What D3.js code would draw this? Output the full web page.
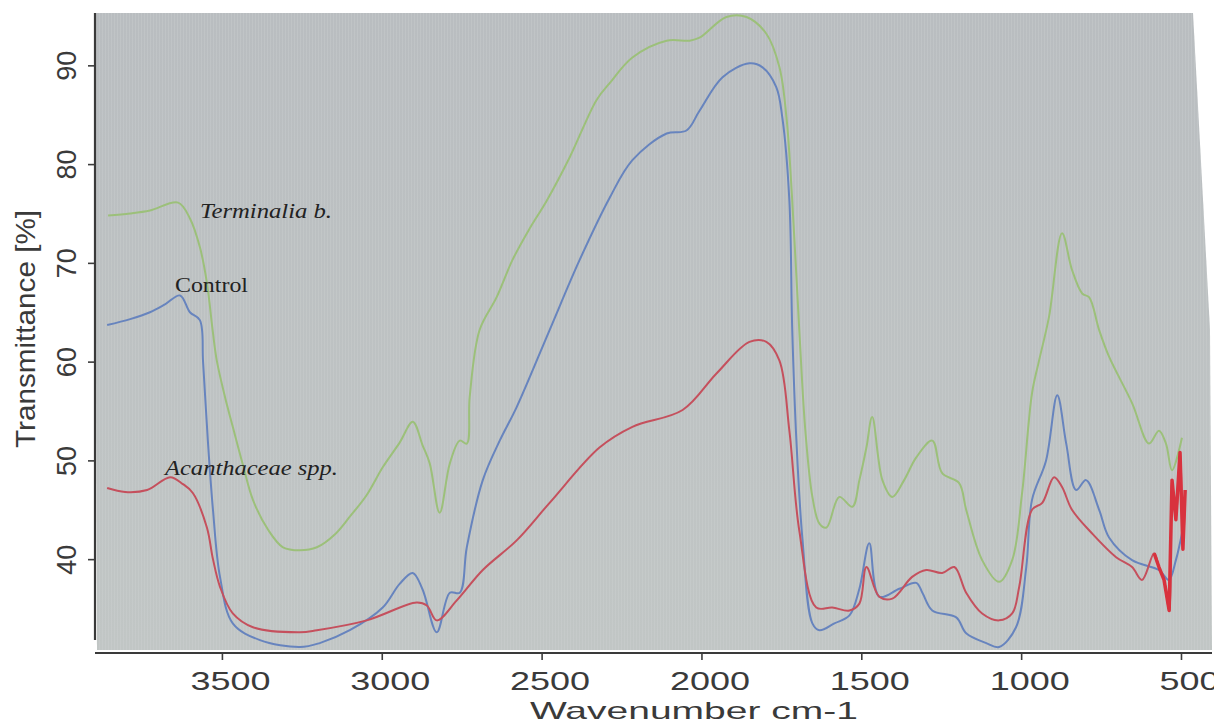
<!DOCTYPE html>
<html>
<head>
<meta charset="utf-8">
<script src="https://cdn.jsdelivr.net/npm/d3@7"></script>
<style>
  body { margin: 0; background: #fff; }
  svg { display: block; }
</style>
</head>
<body>
<div id="chart"></div>
<script>
// FTIR spectra, values (wavenumber cm-1, transmittance %)
const terminaliaWn = [3856,3787,3725,3637,3600,3569,3547,3528,3516,3491,3466,3434,3403,3356,3309,3256,3203,3147,3100,3047,2997,2944,2903,2872,2850,2819,2787,2756,2734,2725,2694,2641,2591,2537,2484,2412,2328,2287,2216,2109,2037,2006,1922,1859,1797,1756,1734,1716,1694,1675,1653,1631,1609,1569,1528,1506,1484,1466,1434,1403,1366,1328,1278,1247,1194,1172,1122,1069,1028,997,966,944,913,872,841,809,787,756,725,653,600,569,547,528,497];
const terminaliaT = [74.8,75.0,75.3,76.1,74.5,71.6,68,62.9,60.1,56.5,53.4,49.5,46,43,41.2,40.9,41.2,42.5,44.3,46.5,49.3,51.8,53.9,51.5,49.7,44.7,49.7,52,51.7,56.4,63.2,66.5,70.3,73.5,76.3,80.7,86.5,88.2,90.8,92.5,92.5,92.8,94.9,94.9,93.2,89.8,84.7,76.3,63.2,53,46.3,43.6,43.2,46.3,45.3,48,51.3,54.4,48,46.3,48,50.3,52,48.7,47.7,45,39.9,37.7,39.9,46.7,56.8,60.1,64.5,73,69.3,66.9,66.5,63.2,60.5,55.8,51.7,53,51.7,49,52.3];

const controlWn = [3859,3787,3725,3678,3631,3600,3569,3559,3544,3528,3506,3466,3381,3256,3194,3100,2997,2944,2903,2872,2828,2787,2756,2734,2684,2631,2578,2475,2381,2287,2216,2109,2047,2006,1934,1850,1809,1766,1747,1725,1716,1703,1684,1653,1631,1584,1537,1506,1475,1444,1381,1328,1309,1278,1203,1172,1109,1069,1016,984,966,922,887,859,828,797,756,725,653,569,538,516,497];
const controlT = [63.7,64.3,65,65.8,66.7,65,64.2,60,52,45,38.2,33.5,31.8,31.1,31.5,32.8,35.1,37.5,38.6,36.9,32.6,36.6,36.6,41.2,48,52,55.4,63.2,70.3,76.6,80.4,83.1,83.4,85.4,88.8,90.2,89.8,87.8,84.7,76.3,63.2,52,42,33.5,32.8,33.5,34.3,37,41.6,36.2,37,37.6,36.6,34.8,34.1,32.5,31.5,31.1,33.1,39.2,46,50,56.6,51.7,47,48,45,42.2,39.9,38.9,37.9,39.9,42.6];

const acanthWn = [3859,3803,3734,3662,3622,3591,3547,3528,3506,3466,3403,3256,3203,3047,2891,2859,2828,2766,2684,2578,2475,2319,2216,2059,1953,1850,1797,1756,1725,1694,1641,1591,1537,1506,1484,1444,1403,1341,1297,1247,1209,1172,1122,1069,1028,1006,966,934,897,872,841,778,703,653,622,584,569,553,537,528,516,503,494,487];
const acanthT = [47.2,46.8,47,48.3,47.6,46.7,43.2,40,37.2,34.5,33.1,32.6,32.8,33.8,35.6,35.3,33.8,35.8,38.9,41.9,45.7,51.3,53.4,55.1,58.8,62,62,60.1,53,42.9,35.1,35.1,34.8,35.5,39.2,36.2,36,38.2,38.9,38.6,39.2,36.6,34.5,33.8,34.5,37.2,45,45.7,48.3,47.3,45,42.6,40.2,39.2,37.9,40.6,39.2,37.9,34.8,48,44,50.8,41,47];

const xTicks = [3500, 3000, 2500, 2000, 1500, 1000, 500];
const yTicks = [40, 50, 60, 70, 80, 90];

const W = 1214, H = 725;
const svg = d3.select("#chart").append("svg")
  .attr("width", W)
  .attr("height", H);

// plot frame (photographed screen)
const x = d3.scaleLinear().domain([3897, 403]).range([95, 1212]);
const y = d3.scaleLinear().domain([30.8, 95.3]).range([650, 13]);

const defs = svg.append("defs");
const grad = defs.append("linearGradient")
  .attr("id", "bg-grad")
  .attr("x1", 0).attr("y1", 0).attr("x2", 0).attr("y2", 1);
grad.append("stop").attr("offset", "0%").attr("stop-color", "#b9bdc0");
grad.append("stop").attr("offset", "100%").attr("stop-color", "#c1c6c5");

const stripes = defs.append("pattern")
  .attr("id", "stripes")
  .attr("width", 3).attr("height", 10)
  .attr("patternUnits", "userSpaceOnUse");
stripes.append("rect")
  .attr("width", 1).attr("height", 10)
  .attr("fill", "#d4d8d8")
  .attr("opacity", 0.25);

const framePts = [[95, 13], [1193, 13], [1210, 330], [1212, 650], [97, 650]];
const framePath = "M" + framePts.map(p => p.join(",")).join("L") + "Z";

defs.append("clipPath").attr("id", "frame-clip")
  .append("path").attr("d", framePath);

svg.append("path").attr("d", framePath).attr("fill", "url(#bg-grad)");
svg.append("path").attr("d", framePath).attr("fill", "url(#stripes)");

// axes
const yAxis = svg.append("g")
  .attr("transform", "translate(95,0)")
  .call(d3.axisLeft(y).tickValues(yTicks).tickSize(7).tickFormat(d3.format("d")));
yAxis.select(".domain").remove();
yAxis.selectAll(".tick line").attr("stroke", "#3c3c3c").attr("stroke-width", 1.6);
yAxis.selectAll(".tick text")
  .attr("x", null).attr("dy", null)
  .attr("transform", "translate(-19,0) rotate(-90)")
  .attr("text-anchor", "middle")
  .attr("font-family", "Liberation Sans, Arial, sans-serif")
  .attr("font-size", 27)
  .attr("fill", "#3a3a3a");

svg.append("line")
  .attr("x1", 95).attr("x2", 95)
  .attr("y1", 13).attr("y2", 640)
  .attr("stroke", "#3a3a3a").attr("stroke-width", 2.2);

const xAxis = svg.append("g")
  .attr("transform", "translate(0,653)")
  .call(d3.axisBottom(x).tickValues(xTicks).tickSize(7).tickFormat(d3.format("d")));
xAxis.select(".domain").remove();
xAxis.selectAll(".tick line").attr("stroke", "#3c3c3c").attr("stroke-width", 1.6);
xAxis.selectAll(".tick text")
  .attr("y", 37).attr("dy", null).attr("dx", 8)
  .attr("text-anchor", "middle")
  .attr("font-family", "Liberation Sans, Arial, sans-serif")
  .attr("font-size", 25)
  .attr("fill", "#3a3a3a")
  .attr("textLength", d => String(d).length * 20)
  .attr("lengthAdjust", "spacingAndGlyphs");

svg.append("line")
  .attr("x1", 95).attr("x2", 1212)
  .attr("y1", 653).attr("y2", 653)
  .attr("stroke", "#3a3a3a").attr("stroke-width", 2.2);

// axis titles
svg.append("text")
  .attr("x", 694).attr("y", 719)
  .attr("text-anchor", "middle")
  .attr("font-family", "Liberation Sans, Arial, sans-serif")
  .attr("font-size", 24)
  .attr("fill", "#3a3a3a")
  .attr("textLength", 328)
  .attr("lengthAdjust", "spacingAndGlyphs")
  .text("Wavenumber cm-1");

svg.append("text")
  .attr("transform", "translate(35,329) rotate(-90)")
  .attr("text-anchor", "middle")
  .attr("font-family", "Liberation Sans, Arial, sans-serif")
  .attr("font-size", 28)
  .attr("fill", "#3a3a3a")
  .attr("textLength", 238)
  .attr("lengthAdjust", "spacingAndGlyphs")
  .text("Transmittance [%]");

// spectra
const series = [
  { name: "Terminalia b.", wn: terminaliaWn, t: terminaliaT, color: "#9cc07a" },
  { name: "Control", wn: controlWn, t: controlT, color: "#6784be" },
  { name: "Acanthaceae spp.", wn: acanthWn, t: acanthT, color: "#c5505d" }
];

const line = d3.line()
  .x(d => x(d[0]))
  .y(d => y(d[1]))
  .curve(d3.curveCatmullRom.alpha(0.5));

const lines = svg.append("g").attr("clip-path", "url(#frame-clip)");

series.forEach(s => {
  const pts = s.wn.map((w, i) => [w, s.t[i]]);
  lines.append("path")
    .datum(pts)
    .attr("fill", "none")
    .attr("stroke", s.color)
    .attr("stroke-width", 2)
    .attr("stroke-linejoin", "round")
    .attr("d", line);
});

// bright noisy tail of the red trace
const acanthTail = acanthWn.map((w, i) => [w, acanthT[i]]).filter(d => d[0] <= 600);
lines.append("path")
  .datum(acanthTail)
  .attr("fill", "none")
  .attr("stroke", "#d8323e")
  .attr("stroke-width", 3.5)
  .attr("stroke-linejoin", "round")
  .attr("d", d3.line().x(d => x(d[0])).y(d => y(d[1])));

// in-plot labels
const labelData = [
  { text: "Terminalia b.", x: 200, y: 218, italic: true, len: 132 },
  { text: "Control", x: 175, y: 292, italic: false, len: 73 },
  { text: "Acanthaceae spp.", x: 165, y: 475, italic: true, len: 173 }
];

svg.append("g").selectAll("text")
  .data(labelData)
  .join("text")
  .attr("x", d => d.x)
  .attr("y", d => d.y)
  .attr("font-family", "Liberation Serif, Times New Roman, serif")
  .attr("font-style", d => d.italic ? "italic" : "normal")
  .attr("font-size", 20)
  .attr("fill", "#222")
  .attr("textLength", d => d.len)
  .attr("lengthAdjust", "spacingAndGlyphs")
  .text(d => d.text);
</script>
</body>
</html>
